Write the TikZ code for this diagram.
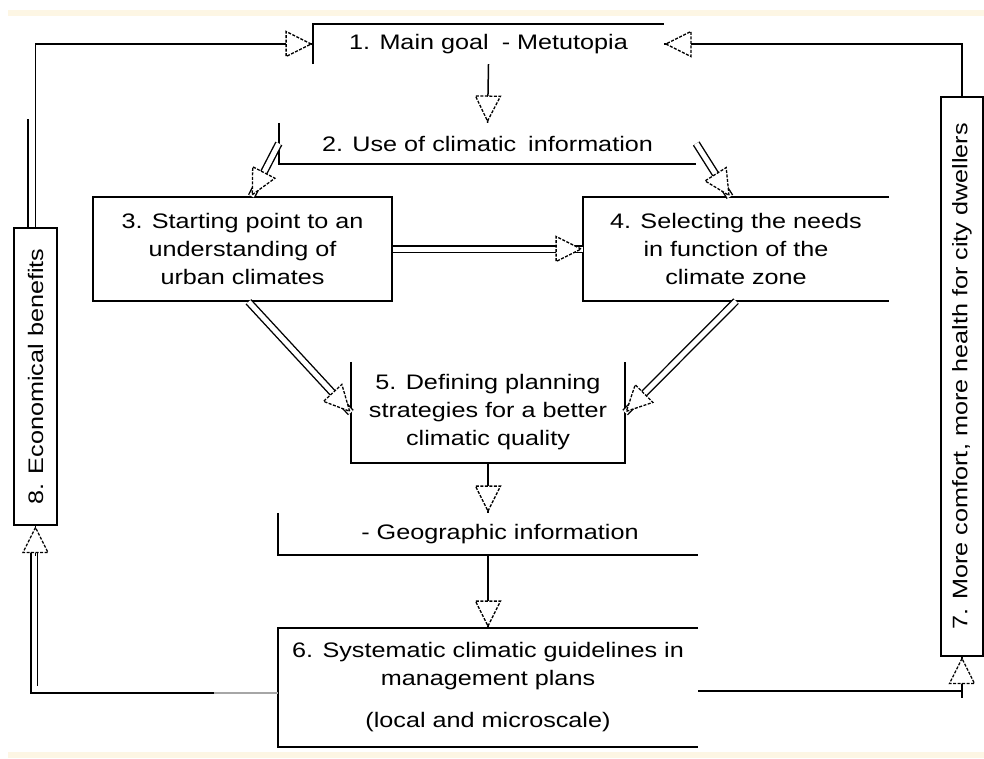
\documentclass[tikz,border=0pt]{standalone}
\usepackage{fontspec}
\setmainfont[FakeStretch=1.2]{Liberation Sans}
\usetikzlibrary{calc,shapes.geometric}
\definecolor{cream}{RGB}{253,246,228}
\begin{document}
\begin{tikzpicture}[x=1pt,y=-1pt,
  txt/.style={font=\fontsize{21}{28}\selectfont, align=center, inner sep=0pt},
  edge/.style={line width=1.6pt},
  conn/.style={line width=1.5pt},
  dbl/.style={double, double distance=5pt, line width=1.4pt},
  head/.style={isosceles triangle, isosceles triangle stretches, draw, fill=white,
    dash pattern=on 3pt off 1.5pt, line width=1.3pt, minimum width=25pt, minimum height=25pt,
    inner sep=0pt, pos=1, sloped, allow upside down, anchor=apex}]
\useasboundingbox (0,0) rectangle (984,758);
\fill[cream] (8,10) rectangle (984,16);
\fill[cream] (8,752) rectangle (984,758);

% boxes
\node[txt, minimum width=351pt, minimum height=40pt] (b1) at (488.5,44) {1. Main goal\hspace{6pt} - Metutopia};
\node[txt, minimum width=417pt, minimum height=41pt] (b2) at (487.5,143.5) {\raisebox{-3pt}{2. Use of climatic\hspace{5pt} information}};
\node[txt, draw, edge, minimum width=299pt, minimum height=104pt] (b3) at (242.5,249) {3. Starting point to an\\ understanding of\\ urban climates};
\node[txt, minimum width=306pt, minimum height=104pt] (b4) at (736,249) {4. Selecting the needs\\ in function of the\\ climate zone};
\node[txt, minimum width=274pt, minimum height=101pt] (b5) at (488,412.5) {5. Defining planning\\ strategies for a better\\ climatic quality};
\node[txt, minimum width=420pt, minimum height=42pt] (geo) at (488,534) {\hspace{24pt}- Geographic information};
\node[txt, minimum width=420pt, minimum height=119pt] (b6) at (488,687.5) {6. Systematic climatic guidelines in\\ management plans\\[14pt] (local and microscale)};
\node[txt, draw, edge, minimum width=42pt, minimum height=559pt] (b7) at (962,376.5) {\rotatebox{90}{7. More comfort, more health for city dwellers}};
\node[txt, draw, edge, minimum width=43pt, minimum height=297pt] (b8) at (35.5,376.5) {\rotatebox{90}{8. Economical benefits}};

% partial borders
\draw[edge] (b1.south west) -- (b1.north west) -- (b1.north east);
\draw[edge] (b2.north west) -- (b2.south west) -- (b2.south east);
\draw[edge] (b4.north east) -- (b4.north west) -- (b4.south west) -- (b4.south east);
\draw[edge] (b5.north west) -- (b5.south west) -- (b5.south east) -- (b5.north east);
\draw[edge] (geo.north west) -- (geo.south west) -- (geo.south east);
\draw[edge] (b6.north east) -- (b6.north west) -- (b6.south west) -- (b6.south east);

% connectors
\draw[conn] (b1.south) -- (b2.north) node[head] {};
\draw[dbl] (b2.west) -- ($(b3.north west)!0.53!(b3.north east)$) node[head] {};
\draw[dbl] (b2.east) -- ($(b4.north west)!0.48!(b4.north east)$) node[head] {};
\draw[dbl] (b3.east) -- (b4.west) node[head] {};
\draw[dbl] ($(b3.south west)!0.52!(b3.south east)$) -- (b5.west) node[head] {};
\draw[dbl] (b4.south) -- (b5.east) node[head] {};
\draw[conn] (b5.south) -- (geo.north) node[head] {};
\draw[conn] (geo.south) -- (b6.north) node[head] {};

% feedback loops
\draw[conn] (b8.north) |- (b1.west) node[head] {};
\draw[conn] ($(b8.north)+(-7.5,0)$) -- ($(b8.north)+(-7.5,-108)$);
\draw[conn] (b7.north) |- (b1.east) node[head] {};
\coordinate (k) at ($(b6.west)+(0,5.5)$);
\coordinate (kg) at ($(k)+(-64,0)$);
\draw[conn, black!35] (k) -- (kg);
\draw[conn] (kg) -| ($(b8.south)+(-4.5,24)$);
\draw[conn] ($(b8.south)+(2,24)$) -- ($(b8.south)+(2,160)$);
\draw[conn] ($(b8.south)+(0,30)$) -- (b8.south) node[head] {};
\draw[conn] ($(b6.east)+(0,3.5)$) -| (b7.south) node[head] {};
\draw[conn] ($(b7.south)+(0,35)$) -- ($(b7.south)+(0,41)$);
\end{tikzpicture}
\end{document}
